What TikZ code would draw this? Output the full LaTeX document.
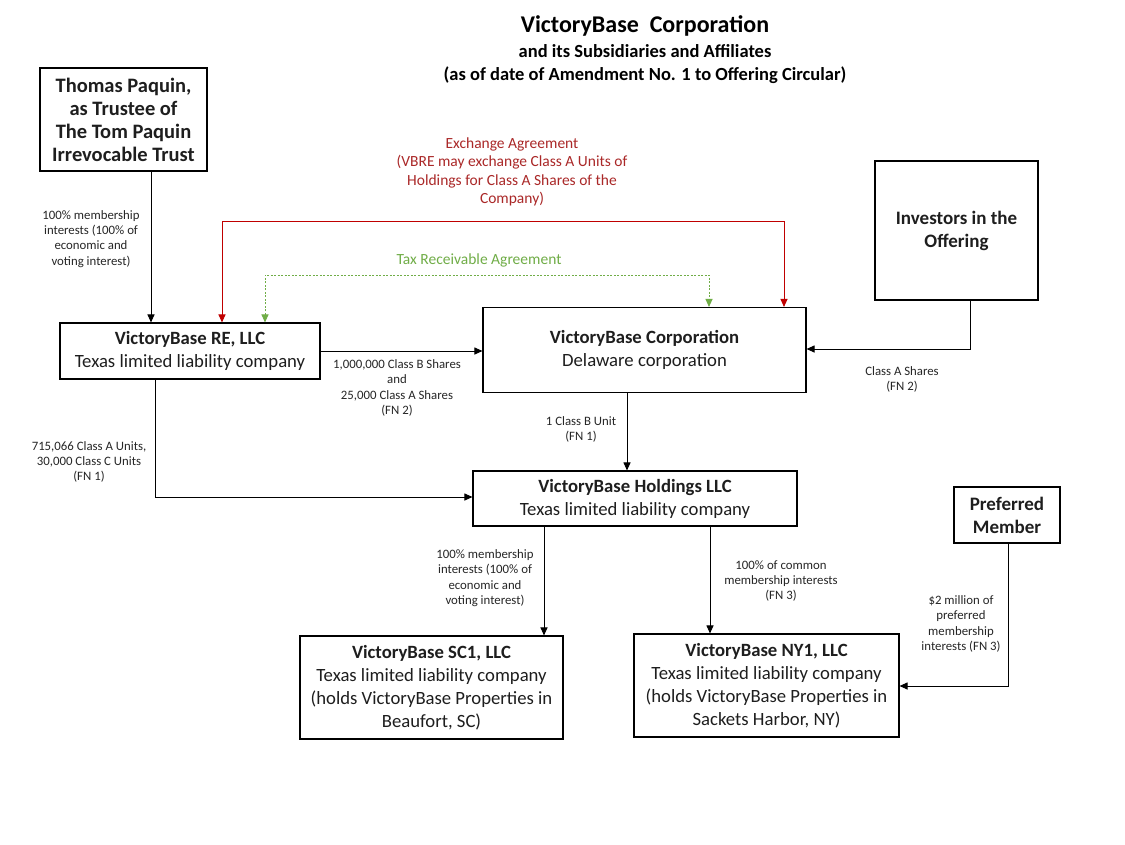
\documentclass[tikz,border=0pt]{standalone}
\usepackage{fontspec}
\setmainfont{Carlito}
\usetikzlibrary{arrows.meta}
\definecolor{exred}{RGB}{192,0,0}
\definecolor{extext}{RGB}{170,40,40}
\definecolor{taxgreen}{RGB}{112,173,71}
\definecolor{boxtext}{RGB}{30,30,30}
\tikzset{
  ent/.style={draw=black, line width=1.1pt, rectangle, align=center, inner sep=2pt, font=\fontsize{18.7}{23}\selectfont, text=boxtext},
  entb/.style={ent, font=\bfseries\fontsize{19}{23}\selectfont},
  lbl/.style={align=center, font=\fontsize{12.8}{15.3}\selectfont, text=black!85, inner sep=0pt},
  arr/.style={line width=1pt, -{Triangle[length=8pt,width=7pt]}},
  exarr/.style={draw=exred, line width=1pt, {Triangle[length=8pt,width=7pt]}-{Triangle[length=8pt,width=7pt]}},
  taxarr/.style={draw=taxgreen, line width=1pt, dashed, dash pattern=on 2pt off 1.5pt, {Triangle[length=8pt,width=7pt]}-{Triangle[length=8pt,width=7pt]}},
}
\begin{document}
\begin{tikzpicture}[x=1pt,y=-1pt]
\useasboundingbox[fill=white] (0,0) rectangle (1125,844);
% title
\node[font=\bfseries\fontsize{24}{28}\selectfont] (title) at (645,26) {VictoryBase\ \ Corporation};
\node[font=\bfseries\fontsize{18.5}{23}\selectfont, align=center] (subtitle) at (645,64) {and its Subsidiaries and Affiliates\\(as of date of Amendment No. 1 to Offering Circular)};
% boxes
\node[entb, minimum width=167, minimum height=103, font=\bfseries\fontsize{20.5}{23}\selectfont] (trust) at (123.5,119.5) {Thomas Paquin,\\as Trustee of\\The Tom Paquin\\Irrevocable Trust};
\node[ent, minimum width=260, minimum height=56] (re) at (190,351) {\textbf{VictoryBase RE, LLC}\\Texas limited liability company};
\node[ent, minimum width=323, minimum height=85] (corp) at (644.5,350) {\textbf{VictoryBase Corporation}\\Delaware corporation};
\node[entb, minimum width=163, minimum height=139] (inv) at (956.5,230.5) {Investors in the\\Offering};
\node[ent, minimum width=324, minimum height=55] (hold) at (635,498.5) {\textbf{VictoryBase Holdings LLC}\\Texas limited liability company};
\node[entb, minimum width=106, minimum height=56] (pref) at (1007,515) {Preferred\\Member};
\node[ent, minimum width=263, minimum height=103] (sc) at (431.5,687.5) {\textbf{VictoryBase SC1, LLC}\\Texas limited liability company\\(holds VictoryBase Properties in\\Beaufort, SC)};
\node[ent, minimum width=265, minimum height=103] (ny) at (766.5,685.5) {\textbf{VictoryBase NY1, LLC}\\Texas limited liability company\\(holds VictoryBase Properties in\\Sackets Harbor, NY)};
% connectors
\draw[arr] (trust.south -| 151,0) -- (re.north -| 151,0);
\node[lbl] (l1) at (91,239) {100\% membership\\interests (100\% of\\economic and\\voting interest)};
\coordinate (exl) at (222,221);
\coordinate (exr) at (784,221);
\draw[exarr] (re.north -| exl) -- (exl) -- (exr) -- (corp.north -| exr);
\node[lbl, text=extext, font=\fontsize{15.5}{18.5}\selectfont] (l2) at (512,172) {Exchange Agreement\\(VBRE may exchange Class A Units of\\Holdings for Class A Shares of the\\Company)};
\coordinate (txl) at (265,275);
\coordinate (txr) at (709,275);
\draw[taxarr] (re.north -| txl) -- (txl) -- (txr) -- (corp.north -| txr);
\node[lbl, text=taxgreen, font=\fontsize{15.5}{18}\selectfont] (l3) at (479,260) {Tax Receivable Agreement};
\draw[arr] (re.east) -- (corp.west |- re.east);
\node[lbl] (l4) at (397,388) {1,000,000 Class B Shares\\and\\25,000 Class A Shares\\(FN 2)};
\coordinate (ic) at (970,349);
\draw[arr] (inv.south -| ic) -- (ic) -- (corp.east |- ic);
\node[lbl] (l5) at (902,379.5) {Class A Shares\\(FN 2)};
\draw[arr] (corp.south -| 627,0) -- (hold.north -| 627,0);
\node[lbl] (l6) at (581,429.5) {1 Class B Unit\\(FN 1)};
\coordinate (rh) at (155,497);
\draw[arr] (re.south -| rh) -- (rh) -- (hold.west |- rh);
\node[lbl] (l7) at (89,462) {715,066 Class A Units,\\30,000 Class C Units\\(FN 1)};
\draw[arr] (hold.south -| 544,0) -- (sc.north -| 544,0);
\node[lbl] (l8) at (485,578) {100\% membership\\interests (100\% of\\economic and\\voting interest)};
\draw[arr] (hold.south -| 710,0) -- (ny.north -| 710,0);
\node[lbl] (l9) at (781,581) {100\% of common\\membership interests\\(FN 3)};
\coordinate (pn) at (1008,686);
\draw[arr] (pref.south -| pn) -- (pn) -- (ny.east |- pn);
\node[lbl] (l10) at (961,624) {\$2 million of\\preferred\\membership\\interests (FN 3)};
\end{tikzpicture}
\end{document}
